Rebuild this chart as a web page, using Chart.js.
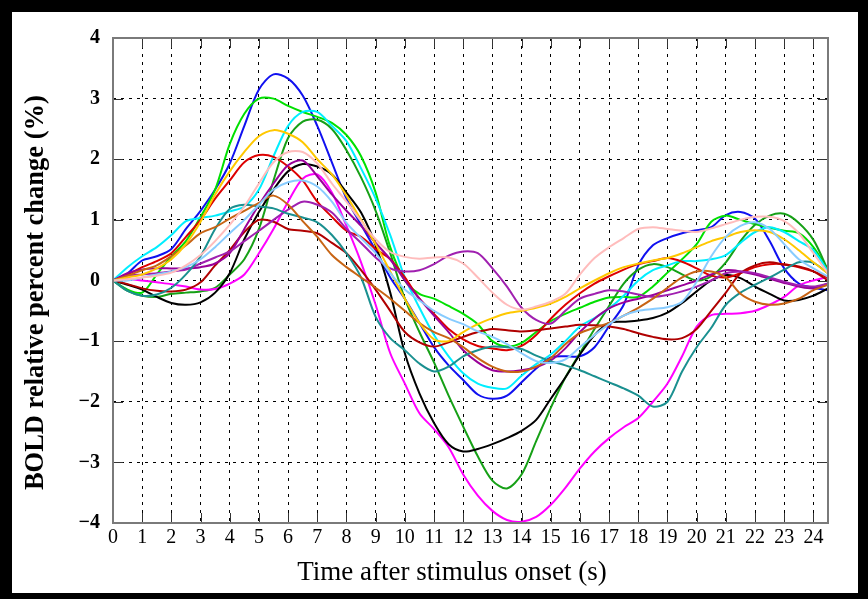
<!DOCTYPE html>
<html>
<head>
<meta charset="utf-8">
<script src="https://cdn.jsdelivr.net/npm/chart.js@4.4.0/dist/chart.umd.min.js"></script>
<style>
  html, body { margin: 0; padding: 0; background: #000; }
  #box { position: absolute; left: 12px; top: 12px; width: 846px; height: 581px; background: #fff; }
  canvas { display: block; }
</style>
</head>
<body>
<div id="box"><canvas id="bold" width="846" height="581"></canvas></div>
<script>
// time axis (s), sampled every 0.5 s
var times = [0,0.5,1,1.5,2,2.5,3,3.5,4,4.5,5,5.5,6,6.5,7,7.5,8,8.5,9,9.5,10,10.5,11,11.5,12,12.5,
  13,13.5,14,14.5,15,15.5,16,16.5,17,17.5,18,18.5,19,19.5,20,20.5,21,21.5,22,22.5,23,23.5,24,24.5];

var xTicks = [0,1,2,3,4,5,6,7,8,9,10,11,12,13,14,15,16,17,18,19,20,21,22,23,24];
var yTicks = [-4,-3,-2,-1,0,1,2,3,4];

var xTitle = 'Time after stimulus onset (s)';
var yTitle = 'BOLD relative percent change (%)';

// BOLD responses (%)
var blue = [0,0.12,0.33,0.4,0.52,0.85,1.15,1.5,1.93,2.55,3.15,3.4,3.33,3.05,2.55,1.95,1.35,0.92,0.5,0.05,
  -0.3,-0.7,-1.1,-1.4,-1.64,-1.88,-1.95,-1.9,-1.68,-1.45,-1.27,-1.25,-1.25,-1.1,-0.75,-0.4,0.25,0.58,0.7,0.78,
  0.83,0.88,1.08,1.13,1.02,0.65,0.2,-0.05,-0.12,-0.16];
var green = [0,-0.15,-0.2,0.1,0.4,0.65,1.05,1.5,2.25,2.75,3.0,3.0,2.88,2.78,2.7,2.6,2.4,2.05,1.45,0.55,
  0.0,-0.22,-0.3,-0.42,-0.55,-0.72,-1.0,-1.09,-1.03,-0.85,-0.67,-0.55,-0.45,-0.35,-0.28,-0.27,-0.27,-0.1,0.13,0.35,
  0.6,0.97,1.07,1.0,0.93,0.87,0.82,0.78,0.55,0.17];
var darkGreen = [0,-0.17,-0.25,-0.27,-0.22,-0.2,-0.18,-0.12,0.1,0.35,0.85,1.65,2.35,2.62,2.65,2.5,2.15,1.7,1.15,0.45,
  -0.3,-0.85,-1.35,-1.9,-2.41,-2.9,-3.3,-3.43,-3.2,-2.65,-2.1,-1.6,-1.2,-0.8,-0.42,-0.05,0.18,0.27,0.22,0.1,
  0.0,0.07,0.3,0.65,0.92,1.07,1.1,0.95,0.67,0.17];
var cyan = [0,0.22,0.4,0.55,0.75,0.98,1.03,1.07,1.14,1.22,1.5,2.05,2.55,2.78,2.78,2.55,2.3,1.85,1.35,0.75,
  0.05,-0.45,-0.9,-1.25,-1.53,-1.7,-1.77,-1.78,-1.57,-1.38,-1.22,-1.0,-0.76,-0.62,-0.46,-0.25,0.0,0.17,0.25,0.32,
  0.32,0.35,0.42,0.62,0.8,0.88,0.8,0.65,0.5,0.15];
var gold = [0,0.05,0.1,0.2,0.35,0.6,0.97,1.42,1.8,2.12,2.38,2.48,2.42,2.28,2.0,1.75,1.4,1.0,0.6,0.15,
  -0.3,-0.7,-0.97,-1.0,-0.85,-0.72,-0.62,-0.54,-0.5,-0.45,-0.38,-0.27,-0.13,0.0,0.12,0.22,0.28,0.33,0.37,0.45,
  0.55,0.65,0.72,0.8,0.83,0.8,0.68,0.5,0.3,0.12];
var red = [0,0.1,0.22,0.32,0.45,0.72,1.0,1.35,1.65,1.95,2.07,2.04,1.88,1.65,1.3,1.05,0.82,0.72,0.52,0.35,
  0.05,-0.3,-0.55,-0.8,-0.97,-1.08,-1.12,-1.15,-1.08,-0.9,-0.63,-0.4,-0.21,-0.05,0.07,0.18,0.27,0.32,0.37,0.31,
  0.2,0.08,0.05,0.12,0.22,0.27,0.27,0.22,0.15,0.05];
var darkRed = [0,-0.06,-0.13,-0.17,-0.18,-0.15,-0.03,0.25,0.5,0.8,1.0,0.97,0.85,0.82,0.78,0.62,0.45,0.17,-0.15,-0.5,
  -0.85,-1.02,-1.09,-1.02,-0.93,-0.85,-0.8,-0.82,-0.84,-0.82,-0.79,-0.76,-0.73,-0.74,-0.76,-0.8,-0.87,-0.93,-0.97,-0.95,
  -0.8,-0.5,-0.2,0.12,0.25,0.3,0.26,0.23,0.15,0.0];
var pink = [0,0.02,0.05,0.08,0.13,0.25,0.42,0.65,0.92,1.22,1.6,1.95,2.12,2.12,1.93,1.6,1.3,0.98,0.68,0.47,
  0.39,0.36,0.38,0.38,0.28,0.05,-0.2,-0.4,-0.48,-0.43,-0.35,-0.22,0.1,0.37,0.55,0.7,0.85,0.88,0.85,0.82,
  0.8,0.86,0.93,1.0,1.05,1.05,0.98,0.78,0.45,0.12];
var purple = [0,0.12,0.18,0.2,0.2,0.2,0.22,0.28,0.45,0.85,1.25,1.6,1.9,1.98,1.72,1.42,1.15,0.9,0.62,0.35,
  0.0,-0.3,-0.58,-0.85,-1.15,-1.35,-1.48,-1.5,-1.48,-1.43,-1.32,-1.12,-0.85,-0.63,-0.46,-0.36,-0.3,-0.24,-0.16,-0.08,
  0.0,0.1,0.17,0.15,0.1,0.03,-0.04,-0.1,-0.13,-0.05];
var violet = [0,0.08,0.1,0.12,0.15,0.18,0.28,0.38,0.48,0.65,0.82,1.0,1.17,1.3,1.25,1.12,0.85,0.62,0.38,0.2,
  0.15,0.17,0.27,0.41,0.48,0.45,0.2,-0.1,-0.45,-0.65,-0.71,-0.5,-0.3,-0.22,-0.16,-0.18,-0.23,-0.27,-0.24,-0.18,
  -0.1,0.0,0.12,0.15,0.12,0.05,-0.02,-0.08,-0.1,-0.05];
var black = [0,-0.07,-0.15,-0.27,-0.37,-0.4,-0.36,-0.2,0.12,0.68,1.13,1.5,1.8,1.92,1.88,1.75,1.45,1.12,0.58,-0.2,
  -1.2,-1.86,-2.35,-2.7,-2.82,-2.78,-2.7,-2.6,-2.48,-2.3,-1.95,-1.6,-1.22,-0.9,-0.7,-0.68,-0.66,-0.62,-0.53,-0.37,
  -0.18,0.0,0.09,0.04,-0.1,-0.22,-0.33,-0.32,-0.25,-0.13];
var magenta = [0,0.02,0.0,-0.03,-0.06,-0.1,-0.15,-0.14,-0.05,0.1,0.45,0.85,1.3,1.68,1.75,1.45,0.9,0.3,-0.4,-1.2,
  -1.7,-2.19,-2.45,-2.75,-3.2,-3.55,-3.8,-3.95,-3.98,-3.9,-3.7,-3.42,-3.1,-2.82,-2.6,-2.42,-2.27,-2.0,-1.7,-1.25,
  -0.76,-0.57,-0.55,-0.54,-0.5,-0.4,-0.27,-0.08,0.0,0.06];
var lightBlue = [0,0.0,0.05,0.1,0.15,0.22,0.35,0.55,0.78,1.0,1.25,1.5,1.62,1.65,1.55,1.3,0.95,0.7,0.45,0.12,
  -0.15,-0.33,-0.5,-0.63,-0.72,-0.84,-0.93,-1.05,-1.2,-1.33,-1.36,-1.3,-1.1,-0.9,-0.72,-0.58,-0.5,-0.47,-0.44,-0.35,
  -0.02,0.4,0.72,0.9,0.96,0.85,0.6,0.35,0.2,0.06];
var brown = [0,0.08,0.17,0.25,0.4,0.58,0.78,0.88,1.02,1.15,1.28,1.4,1.25,0.98,0.72,0.42,0.22,0.05,-0.12,-0.3,
  -0.5,-0.7,-0.85,-0.95,-1.1,-1.28,-1.42,-1.5,-1.5,-1.42,-1.28,-1.05,-0.87,-0.78,-0.7,-0.58,-0.45,-0.3,-0.12,0.05,
  0.15,0.15,0.05,-0.22,-0.35,-0.4,-0.38,-0.3,-0.16,-0.07];
var teal = [0,-0.17,-0.25,-0.23,-0.12,0.1,0.4,0.85,1.18,1.25,1.22,1.19,1.1,1.04,0.96,0.75,0.45,0.05,-0.6,-0.95,
  -1.15,-1.37,-1.5,-1.42,-1.25,-1.15,-1.09,-1.1,-1.13,-1.24,-1.33,-1.4,-1.48,-1.58,-1.68,-1.78,-1.9,-2.08,-2.0,-1.5,
  -1.1,-0.78,-0.4,-0.2,-0.07,0.05,0.18,0.3,0.29,0.12];

var series = [
  { values: pink, color: '#ffbcbc' },
  { values: lightBlue, color: '#88ccff' },
  { values: gold, color: '#ffc800' },
  { values: brown, color: '#c86414' },
  { values: teal, color: '#1a9090' },
  { values: violet, color: '#a020b0' },
  { values: purple, color: '#990099' },
  { values: darkRed, color: '#b00000' },
  { values: red, color: '#dd0000' },
  { values: black, color: '#000000' },
  { values: magenta, color: '#ff00ff' },
  { values: cyan, color: '#00eeff' },
  { values: darkGreen, color: '#16a016' },
  { values: green, color: '#00e000' },
  { values: blue, color: '#1010f0' }
];

var serif = '"Liberation Serif", "Times New Roman", serif';
Chart.defaults.font.family = serif;
Chart.defaults.color = '#000';

// frame box, inward tick marks on all four sides, axis titles
var frameTicks = {
  id: 'frameTicks',
  beforeDatasetsDraw: function (chart) {
    var a = chart.chartArea, c = chart.ctx;
    var xs = chart.scales.x, ys = chart.scales.y, len = 10;
    c.save();
    c.strokeStyle = '#333';
    c.lineWidth = 1;
    c.beginPath();
    xTicks.forEach(function (t) {
      var px = Math.round(xs.getPixelForValue(t)) + 0.5;
      c.moveTo(px, a.bottom); c.lineTo(px, a.bottom - len);
      c.moveTo(px, a.top); c.lineTo(px, a.top + len);
    });
    yTicks.forEach(function (v) {
      var py = Math.round(ys.getPixelForValue(v)) + 0.5;
      c.moveTo(a.left, py); c.lineTo(a.left + len, py);
      c.moveTo(a.right, py); c.lineTo(a.right - len, py);
    });
    c.stroke();
    c.restore();
  },
  afterDraw: function (chart) {
    var a = chart.chartArea, c = chart.ctx;
    c.save();
    c.strokeStyle = '#7a7a7a';
    c.lineWidth = 2;
    c.strokeRect(a.left, a.top, a.right - a.left, a.bottom - a.top);

    c.fillStyle = '#000';
    c.textAlign = 'center';
    c.textBaseline = 'middle';
    c.font = '27px ' + serif;
    c.fillText(xTitle, a.left + (a.right - a.left) * 0.474, a.bottom + 50);

    c.translate(24, a.top + (a.bottom - a.top) * 0.525);
    c.rotate(-Math.PI / 2);
    c.font = 'bold 26.5px ' + serif;
    c.fillText(yTitle, 0, 0);
    c.restore();
  }
};

var ctx = document.getElementById('bold').getContext('2d');
var chart = new Chart(ctx, {
  type: 'line',
  data: {
    labels: times,
    datasets: series.map(function (s) {
      return {
        data: s.values.map(function (v, i) { return { x: times[i], y: v }; }),
        borderColor: s.color,
        borderWidth: 2,
        pointRadius: 0,
        tension: 0.3,
        fill: false
      };
    })
  },
  options: {
    responsive: false,
    animation: false,
    events: [],
    layout: { padding: { top: 26, right: 30, left: 0, bottom: 0 } },
    plugins: { legend: { display: false }, tooltip: { enabled: false } },
    scales: {
      x: {
        type: 'linear',
        min: 0,
        max: 24.5,
        afterBuildTicks: function (scale) {
          scale.ticks = xTicks.map(function (t) { return { value: t }; });
        },
        afterFit: function (scale) { scale.height = 70; },
        grid: { color: '#000', lineWidth: 1, drawTicks: false },
        border: { display: false, dash: [3, 5] },
        ticks: { padding: 3, maxRotation: 0, autoSkip: false, font: { size: 20 } },
        title: { display: false }
      },
      y: {
        min: -4,
        max: 4,
        afterBuildTicks: function (scale) {
          scale.ticks = yTicks.map(function (v) { return { value: v }; });
        },
        afterFit: function (scale) { scale.width = 101; },
        grid: { color: '#000', lineWidth: 1, drawTicks: false },
        border: { display: false, dash: [3, 5] },
        ticks: {
          padding: 13,
          font: { size: 20, weight: 'bold' },
          callback: function (v) { return v < 0 ? '\u2212' + Math.abs(v) : String(v); }
        },
        title: { display: false }
      }
    }
  },
  plugins: [frameTicks]
});
</script>
</body>
</html>
